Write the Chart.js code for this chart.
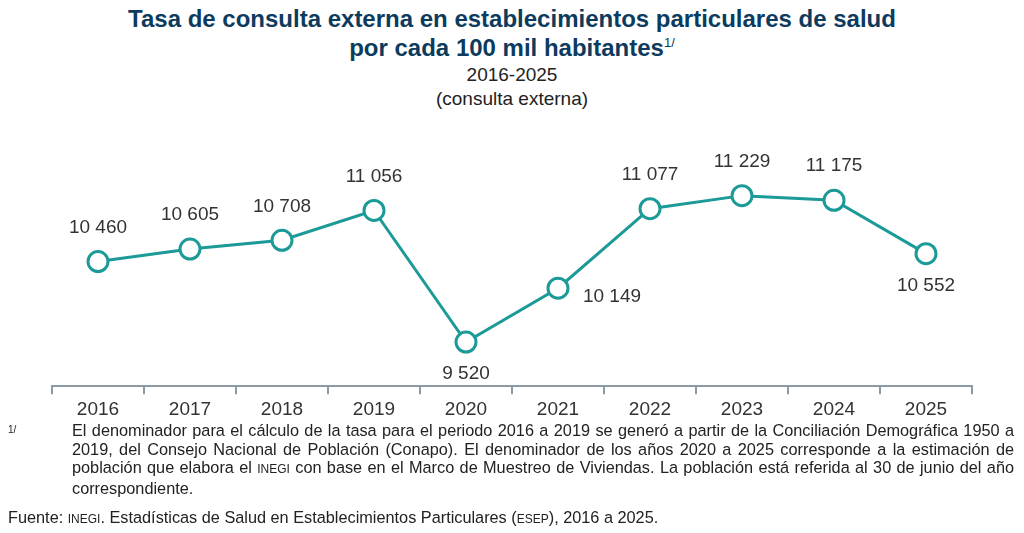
<!DOCTYPE html>
<html><head><meta charset="utf-8">
<script src="https://cdn.jsdelivr.net/npm/chart.js@4/dist/chart.umd.min.js"></script>
<style>
body{margin:0;width:1024px;height:533px;background:#fff;font-family:"Liberation Sans",Arial,sans-serif;position:relative;overflow:hidden}
#t{position:absolute;top:4px;left:0;width:1024px;text-align:center;color:#0d3b5e;font-weight:bold;font-size:24px;line-height:29px}
#s{position:absolute;top:63px;left:0;width:1024px;text-align:center;color:#222;font-size:19px;line-height:24px}
#c{position:absolute;left:0;top:120px;width:1024px;height:305px}
#n{position:absolute;top:421px;left:8px;width:1006px;font-size:16.3px;line-height:18.6px;color:#222}
sup{font-size:13px;line-height:0}
</style></head><body>
<div id="t">Tasa de consulta externa en establecimientos particulares de salud<br>por cada 100 mil habitantes<sup style="font-weight:normal">1/</sup></div>
<div id="s">2016-2025<br>(consulta externa)</div>
<div id="c"><canvas id="cv"></canvas></div>
<div id="n">
<div style="display:flex"><div style="width:64px;font-size:10px">1/</div><div style="flex:1;text-align:justify">El denominador para el cálculo de la tasa para el periodo 2016 a 2019 se generó a partir de la Conciliación Demográfica 1950 a 2019, del Consejo Nacional de Población (Conapo). El denominador de los años 2020 a 2025 corresponde a la estimación de población que elabora el <span style="font-size:12px">INEGI</span> con base en el Marco de Muestreo de Viviendas. La población está referida al 30 de junio del año correspondiente.</div></div>
<div style="margin-top:11px">Fuente: <span style="font-size:12px">INEGI</span>. Estadísticas de Salud en Establecimientos Particulares (<span style="font-size:12px">ESEP</span>), 2016 a 2025.</div>
</div>
<script>
const years=["2016","2017","2018","2019","2020","2021","2022","2023","2024","2025"];
const values=[10460,10605,10708,11056,9520,10149,11077,11229,11175,10552];
const labels=["10 460","10 605","10 708","11 056","9 520","10 149","11 077","11 229","11 175","10 552"];
const pos=["up","up","up","up","down","right","up","up","up","down"];
const lbl={id:'lbl',afterDatasetsDraw(ch){const c=ch.ctx;const m=ch.getDatasetMeta(0);c.save();c.font='19px "Liberation Sans",Arial';c.fillStyle='#333';c.textAlign='center';c.textBaseline='middle';
m.data.forEach((p,i)=>{let x=p.x,y=p.y;if(pos[i]=="up")y-=34;else if(pos[i]=="down")y+=32;else{x+=54;y+=9;}c.fillText(labels[i],x,y);});c.restore();}};
new Chart(document.getElementById('cv'),{type:'line',data:{labels:years,datasets:[{data:values,borderColor:'#1c9a98',borderWidth:3,pointRadius:10,pointHoverRadius:10,pointBackgroundColor:'#fff',pointBorderColor:'#1c9a98',pointBorderWidth:3,tension:0}]},
options:{responsive:true,maintainAspectRatio:false,animation:false,layout:{padding:{left:52,right:52,top:0,bottom:0}},plugins:{legend:{display:false},tooltip:{enabled:false}},
scales:{y:{display:false,min:9005,max:11960},x:{offset:true,border:{color:'#8c9aa5',width:2},grid:{display:true,drawOnChartArea:false,offset:true,color:'#8c9aa5',lineWidth:2,tickLength:8},ticks:{color:'#333',font:{size:19,family:'"Liberation Sans",Arial'},padding:4}}}},plugins:[lbl]});
</script></body></html>
